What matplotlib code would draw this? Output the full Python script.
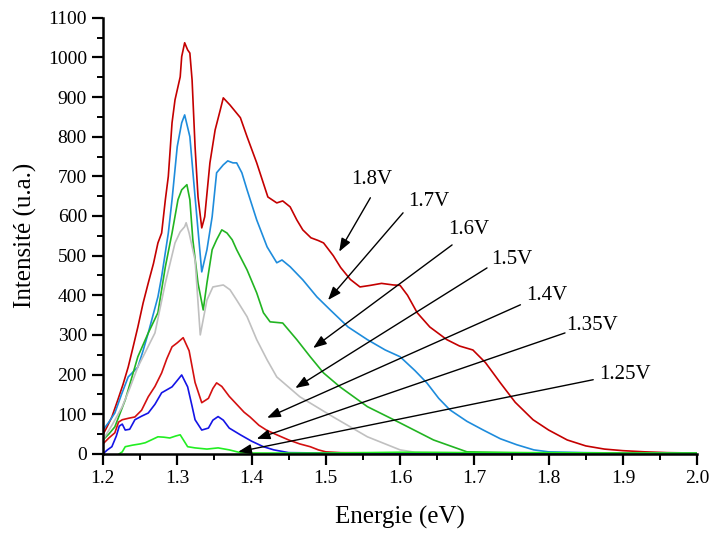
import matplotlib
matplotlib.use("Agg")
import matplotlib.pyplot as plt
from matplotlib.ticker import MultipleLocator, FormatStrFormatter

plt.rcParams['font.family'] = ['Liberation Serif', 'DejaVu Serif']

# ---- data ----
e_18 = [1.200, 1.206, 1.212, 1.220, 1.227, 1.234, 1.240, 1.247, 1.254, 1.261, 1.268, 1.274,
        1.279, 1.284, 1.288, 1.293, 1.297, 1.304, 1.306, 1.310, 1.314, 1.317, 1.320, 1.324,
        1.328, 1.333, 1.337, 1.344, 1.351, 1.358, 1.362, 1.371, 1.385, 1.394, 1.407, 1.422,
        1.434, 1.442, 1.452, 1.461, 1.469, 1.480, 1.490, 1.497, 1.510, 1.520, 1.533,
        1.546, 1.560, 1.575, 1.591, 1.600, 1.610, 1.623, 1.640, 1.663, 1.680, 1.698, 1.715,
        1.735, 1.755, 1.779, 1.800, 1.825, 1.850, 1.875, 1.900, 1.930, 1.960, 2.000]
i_18 = [48, 70, 93, 136, 175, 219, 265, 320, 380, 431, 480, 532,
        557, 641, 700, 835, 893, 951, 1002, 1037, 1019, 1011, 943, 775,
        648, 570, 598, 734, 817, 868, 898, 880, 848, 800, 734, 648,
        633, 638, 623, 590, 565, 545, 538, 532, 500, 470, 440,
        421, 425, 430, 426, 425, 400, 356, 320, 288, 272, 262, 230,
        179, 130, 86, 60, 35, 20, 12, 8, 5, 3, 2]

e_17 = [1.200, 1.208, 1.216, 1.225, 1.234, 1.247, 1.254, 1.261, 1.274, 1.279, 1.288, 1.293,
        1.300, 1.306, 1.310, 1.317, 1.324, 1.333, 1.340, 1.347, 1.353, 1.362, 1.368, 1.375,
        1.380, 1.387, 1.394, 1.407, 1.421, 1.434, 1.441, 1.452, 1.469, 1.488, 1.506,
        1.530, 1.556, 1.580, 1.600, 1.620, 1.636, 1.652, 1.667, 1.690, 1.712, 1.735, 1.757,
        1.780, 1.800, 1.850, 1.900, 1.950, 2.000]
i_17 = [60, 80, 103, 150, 194, 219, 260, 305, 396, 447, 557, 641,
        775, 835, 855, 800, 648, 459, 515, 598, 709, 729, 739, 734,
        734, 709, 666, 590, 522, 482, 489, 472, 439, 396, 363,
        320, 288, 262, 245, 210, 179, 140, 111, 82, 60, 38, 23,
        10, 5, 3, 2, 2, 1]

e_16 = [1.200, 1.208, 1.216, 1.230, 1.240, 1.247, 1.261, 1.274, 1.284, 1.293, 1.301, 1.306,
        1.313, 1.317, 1.321, 1.328, 1.335, 1.340, 1.347, 1.353, 1.360, 1.367, 1.374, 1.380,
        1.394, 1.407, 1.416, 1.425, 1.442, 1.461, 1.479, 1.497, 1.519, 1.556, 1.600, 1.645,
        1.690, 1.750, 1.800, 1.900, 2.000]
i_16 = [35, 50, 68, 136, 200, 245, 305, 356, 472, 557, 641, 666,
        679, 641, 540, 430, 363, 431, 515, 540, 565, 557, 540, 515,
        464, 406, 356, 333, 330, 288, 245, 204, 169, 119, 78, 35,
        5, 3, 2, 2, 1]

e_15 = [1.200, 1.213, 1.226, 1.236, 1.247, 1.258, 1.270, 1.284, 1.297, 1.304, 1.310, 1.312,
        1.316, 1.324, 1.331, 1.340, 1.348, 1.362, 1.371, 1.380, 1.394, 1.407, 1.421,
        1.434, 1.465, 1.510, 1.556, 1.600, 1.620, 1.700, 1.800, 2.000]
i_15 = [35, 75, 119, 165, 219, 260, 305, 431, 532, 560, 573, 583,
        557, 489, 300, 388, 421, 426, 414, 388, 346, 288, 237,
        194, 144, 93, 43, 10, 4, 2, 2, 1]

e_14 = [1.200, 1.208, 1.216, 1.221, 1.226, 1.235, 1.243, 1.252, 1.261, 1.270, 1.279, 1.286,
        1.293, 1.300, 1.308, 1.316, 1.324, 1.333, 1.342, 1.348, 1.353, 1.360, 1.370, 1.380,
        1.390, 1.398, 1.410, 1.420, 1.434, 1.450, 1.465, 1.479, 1.490, 1.500, 1.520, 1.600,
        1.700, 1.800, 1.900, 2.000]
i_14 = [25, 40, 53, 80, 86, 90, 93, 110, 144, 170, 204, 240,
        270, 280, 293, 260, 180, 129, 140, 165, 179, 170, 145, 125,
        105, 93, 72, 60, 48, 35, 25, 18, 10, 5, 3, 2,
        2, 2, 1, 1]

e_135 = [1.200, 1.206, 1.212, 1.218, 1.222, 1.226, 1.230, 1.236, 1.243, 1.252, 1.261, 1.270,
         1.279, 1.293, 1.300, 1.306, 1.314, 1.320, 1.324, 1.333, 1.342, 1.348, 1.355, 1.362,
         1.370, 1.385, 1.400, 1.416, 1.430, 1.450, 1.500, 1.600, 1.800, 2.000]
i_135 = [0, 10, 18, 45, 70, 75, 60, 62, 86, 95, 103, 125,
         154, 169, 185, 199, 169, 120, 86, 60, 65, 85, 94, 85,
         65, 48, 32, 18, 10, 3, 2, 2, 1, 1]

e_125 = [1.222, 1.226, 1.230, 1.240, 1.250, 1.257, 1.265, 1.274, 1.282, 1.290, 1.298, 1.304,
         1.314, 1.324, 1.340, 1.355, 1.370, 1.385, 1.400, 1.500, 1.600, 1.700, 1.800, 1.900,
         2.000]
i_125 = [0, 5, 18, 22, 25, 28, 35, 43, 42, 40, 45, 48,
         18, 15, 12, 15, 10, 3, 2, 2, 4, 3, 3, 2,
         2]

labels = ['1.8V', '1.7V', '1.6V', '1.5V', '1.4V', '1.35V', '1.25V']
colors = ['#C40000', '#1E8CDC', '#22B422', '#C0C0C0', '#D41010', '#1414E6', '#22EE22']
series = [(e_18, i_18), (e_17, i_17), (e_16, i_16), (e_15, i_15),
          (e_14, i_14), (e_135, i_135), (e_125, i_125)]

# annotation positions: text position, arrow tail, arrow head (data units)
text_xy = [(1.562, 691), (1.638, 636), (1.693, 565), (1.751, 489),
           (1.798, 399), (1.859, 325), (1.903, 199)]
tail_xy = [(1.560, 646), (1.604, 608), (1.670, 527), (1.717, 469),
           (1.762, 376), (1.822, 305), (1.860, 187)]
head_xy = [(1.518, 510), (1.503, 388), (1.483, 267), (1.459, 166),
           (1.421, 91), (1.407, 38), (1.382, 5)]

fig = plt.figure(figsize=(7.10, 5.39), dpi=100)
ax = fig.add_axes([0.145, 0.158, 0.837, 0.809])

for (e, i), c in zip(series, colors):
    ax.plot(e, i, color=c, lw=1.2)

for lab, t, a, h in zip(labels, text_xy, tail_xy, head_xy):
    ax.annotate('', xy=h, xytext=a,
                arrowprops=dict(arrowstyle='-|>,head_length=0.8,head_width=0.3',
                                color='black', lw=1.0, shrinkA=0, shrinkB=0))
    ax.text(t[0], t[1], lab, fontsize=15, ha='center', va='center')

ax.set_xlim(1.2, 2.0)
ax.set_ylim(0, 1100)
ax.xaxis.set_major_locator(MultipleLocator(0.1))
ax.xaxis.set_minor_locator(MultipleLocator(0.05))
ax.yaxis.set_major_locator(MultipleLocator(100))
ax.yaxis.set_minor_locator(MultipleLocator(50))
ax.xaxis.set_major_formatter(FormatStrFormatter('%.1f'))

for s in ['top', 'right']:
    ax.spines[s].set_visible(False)
for s in ['left', 'bottom']:
    ax.spines[s].set_linewidth(1.8)
ax.tick_params(which='major', direction='out', length=8, width=1.6, labelsize=14)
ax.tick_params(which='minor', direction='out', length=4, width=1.4)

ax.set_xlabel('Energie (eV)', fontsize=18, labelpad=14)
ax.set_ylabel('Intensité (u.a.)', fontsize=18, labelpad=8)

fig.savefig('out.png', dpi=100)
